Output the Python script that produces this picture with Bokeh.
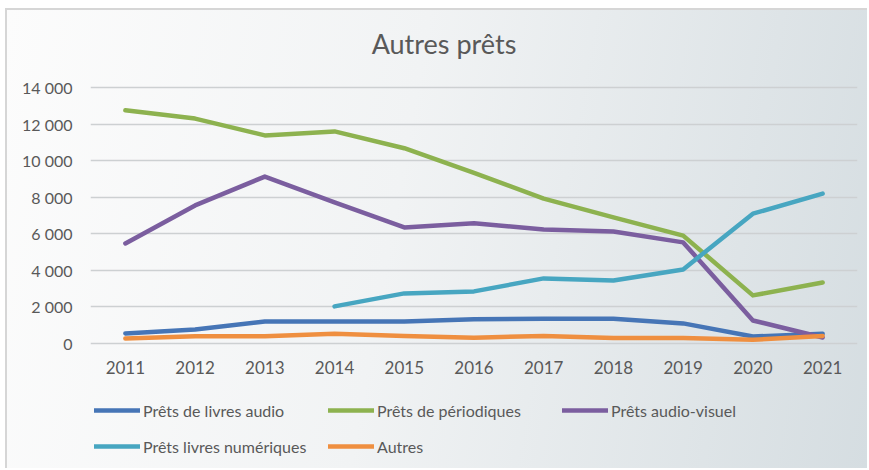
import math
from bokeh.plotting import figure
from bokeh.models import Range1d, FixedTicker, Legend, LegendItem, ColumnDataSource
from bokeh.core.properties import value
from bokeh.embed import file_html
from bokeh.resources import INLINE

years = [2011, 2012, 2013, 2014, 2015, 2016, 2017, 2018, 2019, 2020, 2021]
year_labels = [str(y) for y in years]
audio = [550, 770, 1200, 1200, 1200, 1320, 1360, 1360, 1100, 380, 530]
periodiques = [12750, 12300, 11380, 11600, 10680, 9330, 7920, 6900, 5900, 2630, 3340]
audiovisuel = [5470, 7550, 9130, 7720, 6350, 6580, 6240, 6130, 5530, 1260, 330]
numeriques = [math.nan, math.nan, math.nan, 2030, 2740, 2850, 3560, 3450, 4050, 7100, 8200]
autres = [280, 400, 400, 530, 410, 320, 410, 300, 300, 200, 410]

series_names = ["Prêts de livres audio", "Prêts de périodiques", "Prêts audio-visuel",
                "Prêts livres numériques", "Autres"]
series_values = [audio, periodiques, audiovisuel, numeriques, autres]
series_colors = ["#4675b6", "#8db24f", "#7b5e9f", "#47a6c1", "#ef8f40"]

y_ticks = [0, 2000, 4000, 6000, 8000, 10000, 12000, 14000]
y_tick_labels = ["0", "2 000", "4 000", "6 000", "8 000", "10 000", "12 000", "14 000"]
title_text = "Autres prêts"

FONT = "Lato"
TXT = "#595959"

# layout (pixels inside the canvas): the frame spans the full height so that
# title, year labels and legend all sit inside it
H = 460
PLOT_TOP_PX = 77      # position of the 14 000 line from canvas top
PLOT_H_PX = 256       # distance between 14 000 and 0 lines
per_px = (y_ticks[-1] - y_ticks[0]) / PLOT_H_PX
y_end = y_ticks[-1] + PLOT_TOP_PX * per_px
y_start = y_ticks[0] - (H - PLOT_TOP_PX - PLOT_H_PX) * per_px

p = figure(width=862, height=H, output_backend="svg", toolbar_location=None, title=None,
           x_range=Range1d(years[0] - 0.5, years[-1] + 0.5),
           y_range=Range1d(y_start, y_end),
           min_border_left=83, min_border_right=12, min_border_top=0, min_border_bottom=0)

p.background_fill_color = None
p.border_fill_color = None
p.outline_line_color = None
p.styles = {
    "background": "linear-gradient(100deg, #fcfcfc 0%, #f1f3f4 45%, #d5dde1 100%)",
    "border-left": "2px solid #d6d6d6",
    "border-top": "2px solid #d6d6d6",
    "margin-left": "5px",
    "margin-top": "8px",
}

# axes
p.xaxis.visible = False
p.yaxis.ticker = FixedTicker(ticks=y_ticks)
p.yaxis.major_label_overrides = {t: l for t, l in zip(y_ticks, y_tick_labels)}
ax = p.yaxis[0]
ax.axis_line_color = None
ax.major_tick_line_color = None
ax.minor_tick_line_color = None
ax.major_tick_out = 0
ax.major_tick_in = 0
ax.minor_tick_out = 0
ax.major_label_text_font = FONT
ax.major_label_text_font_size = "16px"
ax.major_label_text_color = TXT
ax.major_label_standoff = 18

p.xgrid.grid_line_color = None
p.ygrid.ticker = FixedTicker(ticks=y_ticks)
p.ygrid.grid_line_color = "#cdd0d2"
p.ygrid.grid_line_width = 1.5

# title
p.text(x=[(years[0] + years[-1]) / 2], y=[y_ticks[-1]], text=[title_text],
       x_offset=-30, y_offset=-44, text_align="center", text_baseline="middle",
       text_font=value(FONT), text_font_size="27px", text_color=TXT)

# category labels under the 0 line
p.text(x=years, y=[y_ticks[0]] * len(years), text=year_labels, y_offset=24,
       text_align="center", text_baseline="middle",
       text_font=value(FONT), text_font_size="17px", text_color=TXT)

items = []
for name, vals, col in zip(series_names, series_values, series_colors):
    src = ColumnDataSource(dict(x=years, y=vals))
    r = p.line("x", "y", source=src, line_color=col, line_width=4.5,
               line_join="round", line_cap="round")
    items.append(LegendItem(label=name, renderers=[r]))

legend = Legend(items=items, orientation="horizontal", nrows=2,
                location=(4, 14), glyph_width=46, glyph_height=20,
                label_height=20, label_width=169, label_standoff=3, spacing=16,
                padding=0, margin=0, border_line_color=None, background_fill_color=None,
                background_fill_alpha=0, label_text_font=FONT, label_text_font_size="16px",
                label_text_color=TXT)
p.add_layout(legend, "center")

open("out.html", "w").write(file_html(p, INLINE))
